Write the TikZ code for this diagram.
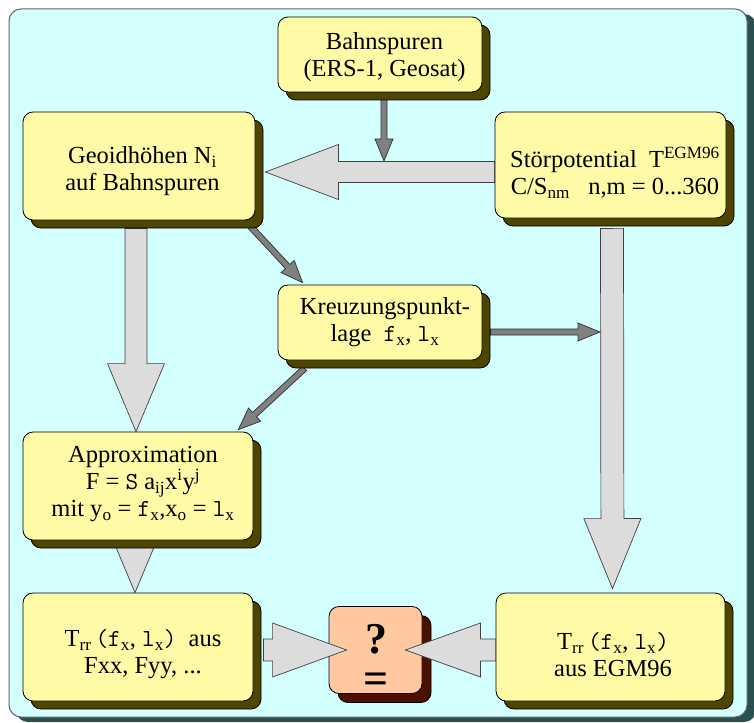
\documentclass[tikz,border=0pt]{standalone}
\usepackage{fontspec}
\setmainfont{Liberation Serif}
\usetikzlibrary{calc,shadows}
\pgfdeclarelayer{bgzero}
\pgfdeclarelayer{bgone}
\pgfsetlayers{bgzero,bgone,main}

\definecolor{bgcyan}{RGB}{212,255,255}
\definecolor{framegray}{RGB}{100,100,100}
\definecolor{frameshadow}{RGB}{40,80,80}
\definecolor{boxyellow}{RGB}{255,250,165}
\definecolor{boxshadow}{RGB}{77,69,0}
\definecolor{qfill}{RGB}{255,200,160}
\definecolor{qshadow}{RGB}{76,16,0}
\definecolor{bigfill}{RGB}{220,220,220}
\definecolor{bigline}{RGB}{64,64,64}
\definecolor{darkfill}{RGB}{128,128,128}
\definecolor{darkline}{RGB}{48,48,48}

\newcommand\fatarrow[6]{%
  \coordinate (fa-a) at #2;
  \coordinate (fa-b) at #3;
  \coordinate (fa-h) at ($(fa-b)!#6pt!(fa-a)$);
  \draw[#1] ($(fa-a)!#4pt!90:(fa-b)$) -- ($(fa-h)!#4pt!-90:(fa-a)$) -- ($(fa-h)!#5pt!-90:(fa-a)$) -- (fa-b) -- ($(fa-h)!#5pt!90:(fa-a)$) -- ($(fa-h)!#4pt!90:(fa-a)$) -- ($(fa-a)!#4pt!-90:(fa-b)$) -- cycle;
}

\tikzset{
  box/.style={draw=black, line width=0.8pt, fill=boxyellow, rounded corners=10pt, inner sep=0pt,
    general shadow={fill=boxshadow, draw=black, line width=0.8pt, shadow xshift=8pt, shadow yshift=-8pt}},
  qbox/.style={draw=black, line width=0.8pt, fill=qfill, rounded corners=10pt, inner sep=0pt,
    general shadow={fill=qshadow, draw=black, line width=0.8pt, shadow xshift=9pt, shadow yshift=-9pt}},
  txt/.style={inner sep=0pt, align=center, font=\fontsize{24.5}{27}\selectfont},
  bigarrow/.style={fill=bigfill, draw=bigline, line width=0.7pt, line join=miter},
  darkarrow/.style={fill=darkfill, draw=darkline, line width=0.7pt, line join=miter},
}

\begin{document}
\begin{tikzpicture}[x=1pt,y=-1pt]
\useasboundingbox (0,0) rectangle (754,722);

% frame
\begin{pgfonlayer}{bgzero}
\fill[frameshadow, rounded corners=12pt] (16,14) rectangle (756,722);
\draw[framegray, fill=bgcyan, rounded corners=12pt, line width=1pt] (9,9) rectangle (747,717);
\end{pgfonlayer}

% boxes
\node[box, minimum width=204pt, minimum height=75pt] (bahn) at (380,54.5) {};
\node[box, minimum width=232pt, minimum height=108pt] (geo) at (139,166) {};
\node[box, minimum width=231pt, minimum height=106pt] (stoer) at (610.5,165) {};
\node[box, minimum width=204pt, minimum height=75pt] (kreuz) at (380,322.5) {};
\node[box, minimum width=230pt, minimum height=108pt] (approx) at (138,486) {};
\node[box, minimum width=230pt, minimum height=108pt] (trrL) at (138,647) {};
\node[box, minimum width=229pt, minimum height=108pt] (trrR) at (610.5,647) {};
\node[qbox, minimum width=93pt, minimum height=87pt] (q) at (375.5,650) {};

% texts
\node[txt] (bahn-t) at (384.5,57) {Bahnspuren\\(ERS-1, Geosat)};
\node[txt] (geo-t) at (142.5,171.5) {Geoidhöhen N\textsubscript{i}\\auf Bahnspuren};
\node[txt] (stoer-t) at (615,172.5) {Störpotential~~T\textsuperscript{EGM96}\\C/S\textsubscript{nm}~~~n,m = 0...360};
\node[txt] (kreuz-t) at (385,322) {Kreuzungspunkt-\\lage~~\texttt{f}\textsubscript{x}, \texttt{l}\textsubscript{x}};
\node[txt] (approx-t) at (143,484) {Approximation\\F = \texttt{S} a\textsubscript{ij}x\textsuperscript{i}y\textsuperscript{j}\\mit y\textsubscript{o} = \texttt{f}\textsubscript{x},x\textsubscript{o} = \texttt{l}\textsubscript{x}};
\node[txt] (trrL-t) at (143,654.5) {T\textsubscript{rr}\,\texttt{(f}\textsubscript{x}, \texttt{l}\textsubscript{x}\texttt{)}~~aus\\Fxx, Fyy, ...};
\node[txt] (trrR-t) at (613,654.5) {T\textsubscript{rr}\,\texttt{(f}\textsubscript{x}, \texttt{l}\textsubscript{x}\texttt{)}\\aus EGM96};

\coordinate (j1) at (384,161);
\coordinate (j2) at (600,332);

% background arrows
\begin{pgfonlayer}{bgone}
\fatarrow{bigarrow}{([yshift=-7pt]stoer.west)}{([xshift=10pt,yshift=-6pt]geo.east)}{10.5}{27.5}{73}
\fatarrow{darkarrow}{([xshift=4pt,yshift=-7pt]bahn.south)}{(j1)}{3}{9}{22}
\fatarrow{bigarrow}{([xshift=-3pt,yshift=-8pt]geo.south)}{([xshift=-2pt]approx.north)}{11}{28.5}{68}
\fatarrow{darkarrow}{([xshift=-5pt,yshift=-6pt]geo.south east)}{([xshift=25pt,yshift=2pt]kreuz.north west)}{3}{9}{22}
\fatarrow{darkarrow}{([xshift=27pt,yshift=-8pt]kreuz.south west)}{([xshift=-15pt,yshift=2pt]approx.north east)}{3}{9}{22}
\fatarrow{bigarrow}{([xshift=1.5pt,yshift=-10pt]stoer.south)}{([xshift=2pt,yshift=4pt]trrR.north)}{11.5}{28.5}{70}
\fatarrow{darkarrow}{([xshift=8pt,yshift=-9.5pt]kreuz.east)}{(j2)}{3}{9}{22}
\fatarrow{bigarrow}{([xshift=-3pt]approx.center)}{([xshift=-3pt]trrL.north)}{11}{28.5}{68}
\end{pgfonlayer}

% arrows into the question box
\fatarrow{bigarrow}{([xshift=10pt,yshift=-3pt]trrL.east)}{([xshift=18pt]q.west)}{11}{27}{74}
\fatarrow{bigarrow}{([yshift=-3pt]trrR.west)}{([xshift=-17pt]q.east)}{11}{27}{75}

\node[inner sep=0pt, align=center, font=\fontsize{44}{40}\selectfont\bfseries] (qt) at (376,659) {?\\=};
\end{tikzpicture}
\end{document}
